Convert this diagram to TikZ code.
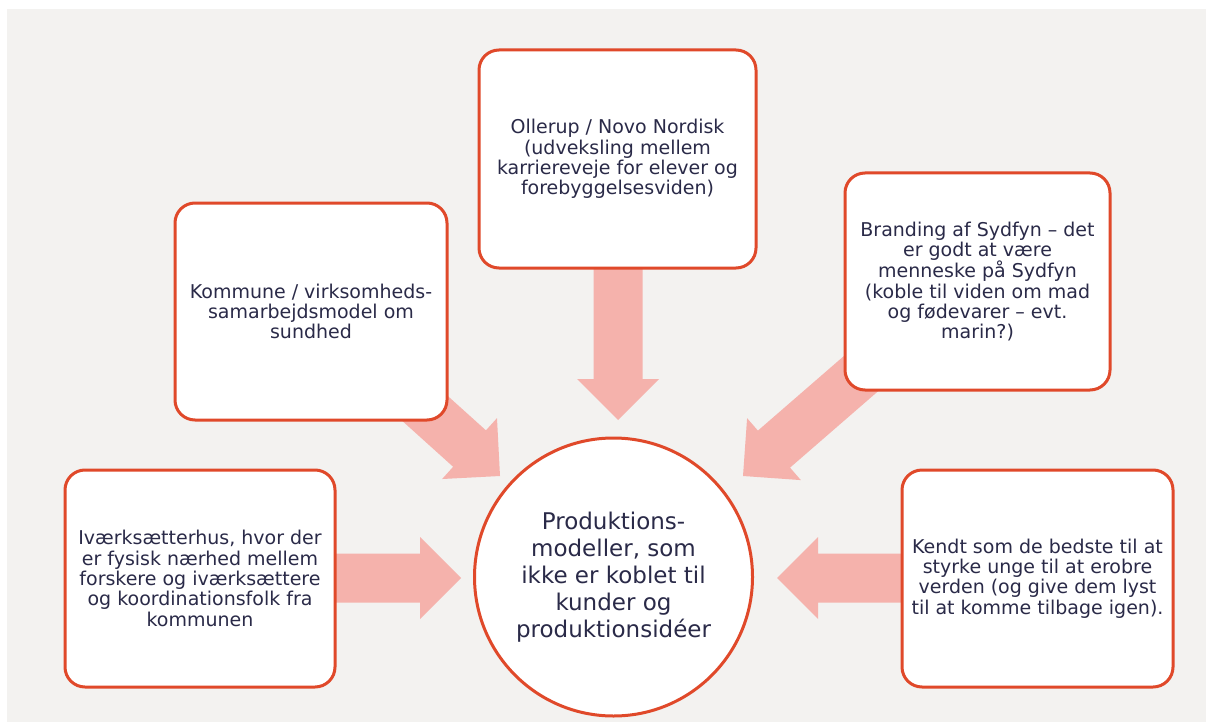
\documentclass[tikz,border=0pt]{standalone}
\usepackage{fontspec}
\setmainfont{DejaVu Sans}
\usetikzlibrary{calc}
\definecolor{bgcol}{HTML}{F3F2F0}
\definecolor{bordercol}{HTML}{E0492A}
\definecolor{arrowcol}{HTML}{F5B2AC}
\definecolor{textcol}{HTML}{2A2A48}
\newcommand\blockarrow[2]{%
  \path ($(#2)!41pt!(#1)$) coordinate (hb);
  \fill[arrowcol] ($(#1)!24.5pt!90:(#2)$) -- ($(hb)!24.5pt!90:(#2)$) -- ($(hb)!41pt!90:(#2)$) -- (#2)
     -- ($(hb)!41pt!-90:(#2)$) -- ($(hb)!24.5pt!-90:(#2)$) -- ($(#1)!24.5pt!-90:(#2)$) -- cycle;}
\begin{document}
\begin{tikzpicture}[x=1pt,y=-1pt,
  box/.style={draw=bordercol, line width=3pt, fill=white, rounded corners=20pt, inner sep=0pt,
    align=center, text=textcol, font=\fontsize{19}{20.3}\selectfont},
  hub/.style={draw=bordercol, line width=3pt, fill=white, circle, inner sep=0pt, minimum size=278pt,
    align=center, text=textcol, font=\fontsize{23}{27}\selectfont}]
\useasboundingbox (0,0) rectangle (1206,722);
\fill[white] (0,0) rectangle (1206,722);
\fill[bgcol] (7,9) rectangle (1206,722);
% arrow end points
\coordinate (tT) at (618,260);   \coordinate (pT) at (618,420);
\coordinate (tL) at (330,578);   \coordinate (pL) at (461,578);
\coordinate (tR) at (910,578);   \coordinate (pR) at (777,578);
\coordinate (tK) at (389,376);   \coordinate (pK) at (500,476);
\coordinate (tB) at (864,371);   \coordinate (pB) at (743,476);
\blockarrow{tT}{pT}
\blockarrow{tL}{pL}
\blockarrow{tR}{pR}
\blockarrow{tK}{pK}
\blockarrow{tB}{pB}
% boxes
\node[box, minimum width=277pt, minimum height=218pt] (oll) at (617.5,159)
  {Ollerup / Novo Nordisk\\(udveksling mellem\\karriereveje for elever og\\forebyggelsesviden)};
\node[box, minimum width=272pt, minimum height=217pt] (kom) at (311,311.5)
  {Kommune / virksomheds-\\samarbejdsmodel om\\sundhed};
\node[box, minimum width=265pt, minimum height=217pt] (bra) at (977.5,281.5)
  {Branding af Sydfyn – det\\er godt at være\\menneske på Sydfyn\\(koble til viden om mad\\og fødevarer – evt.\\marin?)};
\node[box, minimum width=270pt, minimum height=217pt] (ivk) at (200,578.5)
  {Iværksætterhus, hvor der\\er fysisk nærhed mellem\\forskere og iværksættere\\og koordinationsfolk fra\\kommunen};
\node[box, minimum width=271pt, minimum height=217pt] (ken) at (1037.5,578.5)
  {Kendt som de bedste til at\\styrke unge til at erobre\\verden (og give dem lyst\\til at komme tilbage igen).};
\node[hub] (hub) at (613.5,577)
  {Produktions-\\modeller, som\\ikke er koblet til\\kunder og\\produktionsidéer};
\end{tikzpicture}
\end{document}
